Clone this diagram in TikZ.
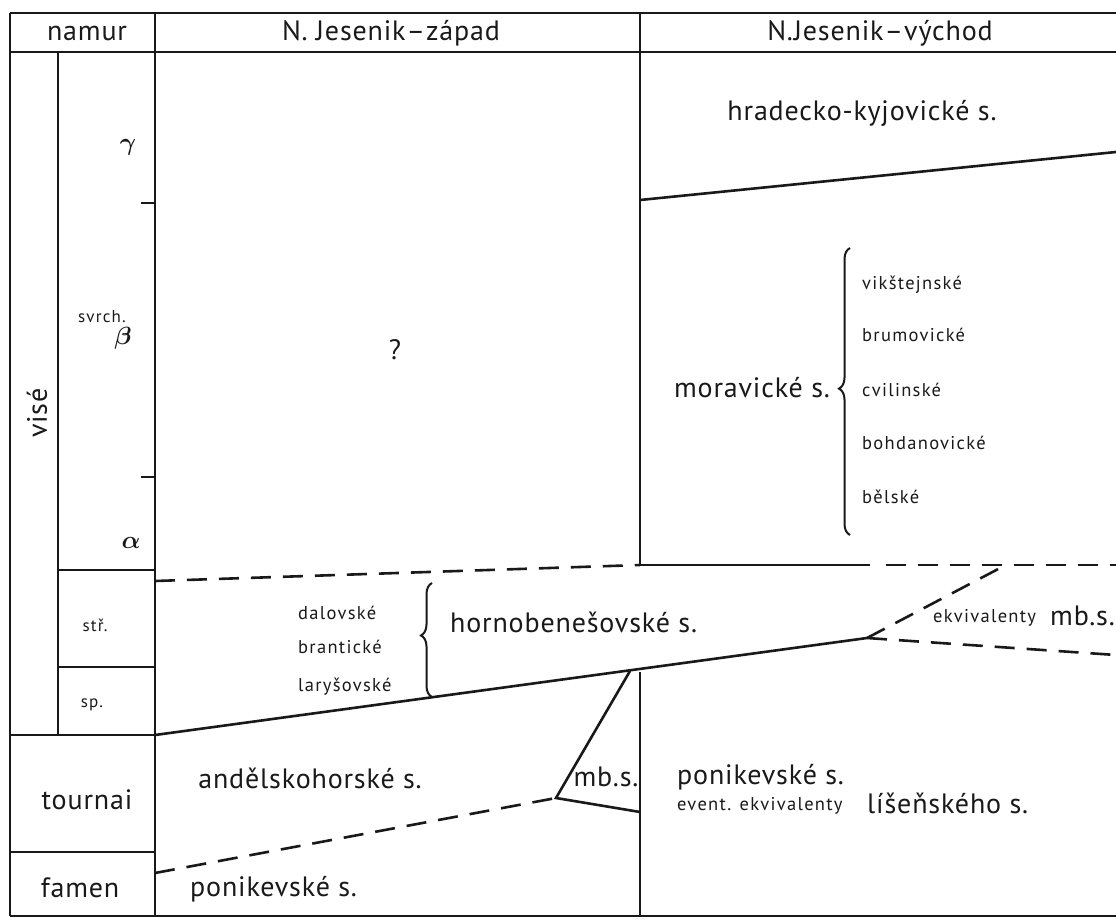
\documentclass[tikz,border=0pt]{standalone}
\usepackage{fontspec}
\setmainfont{PT Sans}
\newfontfamily\bigfont{PT Sans}[LetterSpace=3]
\newfontfamily\smallfont{PT Sans}[LetterSpace=7]
\usetikzlibrary{decorations.pathreplacing}
\tikzset{
  frame/.style={line width=2.6pt, draw=black!90},
  dashline/.style={line width=2.6pt, draw=black!90, dash pattern=on 20pt off 12pt},
  big/.style={font=\bigfont\fontsize{28}{32}\selectfont, inner sep=0pt, text=black!90},
  small/.style={font=\smallfont\fontsize{18.5}{21}\selectfont, inner sep=0pt, text=black!90},
  tiny/.style={font=\smallfont\fontsize{17}{20}\selectfont, inner sep=0pt, text=black!90},
  greek/.style={font=\boldmath\fontsize{28}{30}\selectfont, inner sep=0pt, text=black!90},
  bracestyle/.style={line width=2pt, draw=black!90, decorate, decoration={brace, amplitude=11pt, aspect=#1}},
}
\begin{document}
\begin{tikzpicture}[x=1pt, y=-1pt]
\useasboundingbox (0,0) rectangle (1116,918);
% frame coordinates
\coordinate (TL) at (10,13);
\coordinate (TR) at (1116,13);
\coordinate (HL) at (10,52);
\coordinate (HR) at (1116,52);
\coordinate (BL) at (10,916);
\coordinate (BR) at (1116,916);
\coordinate (c1t) at (155,13);
\coordinate (c1b) at (155,916);
\coordinate (vi t) at (58,52);
\coordinate (vi b) at (58,735);
\coordinate (c2t) at (640,13);
\coordinate (c2m) at (640,565);
\coordinate (c2n) at (640,672);
\coordinate (c2b) at (640,916);
\draw[frame] (TL) -- (TR);
\draw[frame] (HL) -- (HR);
\draw[frame] (BL) -- (BR);
\draw[frame] (TL) -- (BL);
\draw[frame] (c1t) -- (c1b);
\draw[frame] (vi t) -- (vi b);
\draw[frame] (c2t) -- (c2m);
\draw[frame] (c2n) -- (c2b);
% left column subdivisions
\coordinate (s1a) at (58,570);  \coordinate (s1b) at (155,570);
\coordinate (s2a) at (58,667);  \coordinate (s2b) at (155,667);
\coordinate (s3a) at (10,735);  \coordinate (s3b) at (155,735);
\coordinate (s4a) at (10,852);  \coordinate (s4b) at (155,852);
\draw[frame] (s1a) -- (s1b);
\draw[frame] (s2a) -- (s2b);
\draw[frame] (s3a) -- (s3b);
\draw[frame] (s4a) -- (s4b);
\coordinate (t1a) at (141,203); \coordinate (t1b) at (155,203);
\coordinate (t2a) at (141,477); \coordinate (t2b) at (155,477);
\draw[frame] (t1a) -- (t1b);
\draw[frame] (t2a) -- (t2b);
% upper east boundary
\coordinate (hk1) at (640,200);
\coordinate (hk2) at (1116,152);
\draw[frame] (hk1) -- (hk2);
% moravicke base
\coordinate (mv1) at (870,565);
\coordinate (mv1d) at (886,565);
\coordinate (mv2) at (1116,565);
\draw[frame] (c2m) -- (mv1);
\draw[dashline] (mv1d) -- (mv2);
% hornobenesovske top (dashed)
\coordinate (hb1) at (155,581);
\draw[dashline] (hb1) -- (c2m);
% hornobenesovske base
\coordinate (hbb1) at (155,735);
\coordinate (hbb2) at (867,638);
\draw[frame] (hbb1) -- (hbb2);
\coordinate (ek1) at (1002,567);
\coordinate (ek2) at (1116,655);
\draw[dashline] (hbb2) -- (ek1);
\draw[dashline] (hbb2) -- (ek2);
% mb. s. wedge
\coordinate (mb1) at (630,671);
\coordinate (mb2) at (556,798);
\coordinate (mb3) at (640,812);
\draw[frame] (mb1) -- (mb2) -- (mb3);
\coordinate (an1) at (155,873);
\draw[dashline] (an1) -- (mb2);
% braces
\coordinate (br1a) at (850,535);
\coordinate (br1b) at (850,248);
\draw[bracestyle=0.51] (br1a) -- (br1b);
\coordinate (br2a) at (432,697);
\coordinate (br2b) at (432,583);
\draw[bracestyle=0.54] (br2a) -- (br2b);
% header texts
\node[big] (namur) at (87,33) {namur};
\node[big] (zap) at (391,33) {N. Jesenik{\kern1pt}–{\kern1pt}západ};
\node[big] (vych) at (880,33) {N.{\kern1pt}Jesenik{\kern1pt}–{\kern1pt}východ};
% stage column texts
\node[greek] (gam) at (128,147) {$\gamma$};
\node[tiny] (svrch) at (102,317) {svrch.};
\node[greek] (bet) at (123,338) {$\beta$};
\node[greek] (alp) at (131,543) {$\alpha$};
\node[big, rotate=90] (vise) at (37,413) {visé};
\node[tiny] (str) at (95,625) {stř.};
\node[tiny] (sp) at (92,705) {sp.};
\node[big] (tournai) at (87,800) {tournai};
\node[big] (famen) at (80,888) {famen};
% west column
\node[big] (q) at (395,350) {?};
\node[small, anchor=west] (dal) at (298,613) {dalovské};
\node[small, anchor=west] (bra) at (298,647) {brantické};
\node[small, anchor=west] (lar) at (298,687) {laryšovské};
\node[big, anchor=west] (hob) at (450,622) {hornobenešovské s.};
\node[big] (and) at (310,778) {andělskohorské s.};
\node[big] (mbs) at (606,777) {mb.{\kern1pt}s.};
\node[big, anchor=west] (ponw) at (190,889) {ponikevské s.};
% east column
\node[big] (hrad) at (862,113) {hradecko-kyjovické s.};
\node[big] (mor) at (752,388) {moravické s.};
\node[small, anchor=west] (vik) at (862,285) {vikštejnské};
\node[small, anchor=west] (bru) at (862,335) {brumovické};
\node[small, anchor=west] (cvi) at (862,390) {cvilinské};
\node[small, anchor=west] (boh) at (862,443) {bohdanovické};
\node[small, anchor=west] (bel) at (862,497) {bělské};
\node[small, anchor=west] (ekv) at (933,618) {ekvivalenty};
\node[big, anchor=west] (mbs2) at (1050,616) {mb.s.};
\node[big, anchor=west] (pone) at (677,777) {ponikevské s.};
\node[small, anchor=west] (evt) at (677,806) {event. ekvivalenty};
\node[big, anchor=west] (lis) at (867,803) {líšeňského s.};
\end{tikzpicture}
\end{document}
